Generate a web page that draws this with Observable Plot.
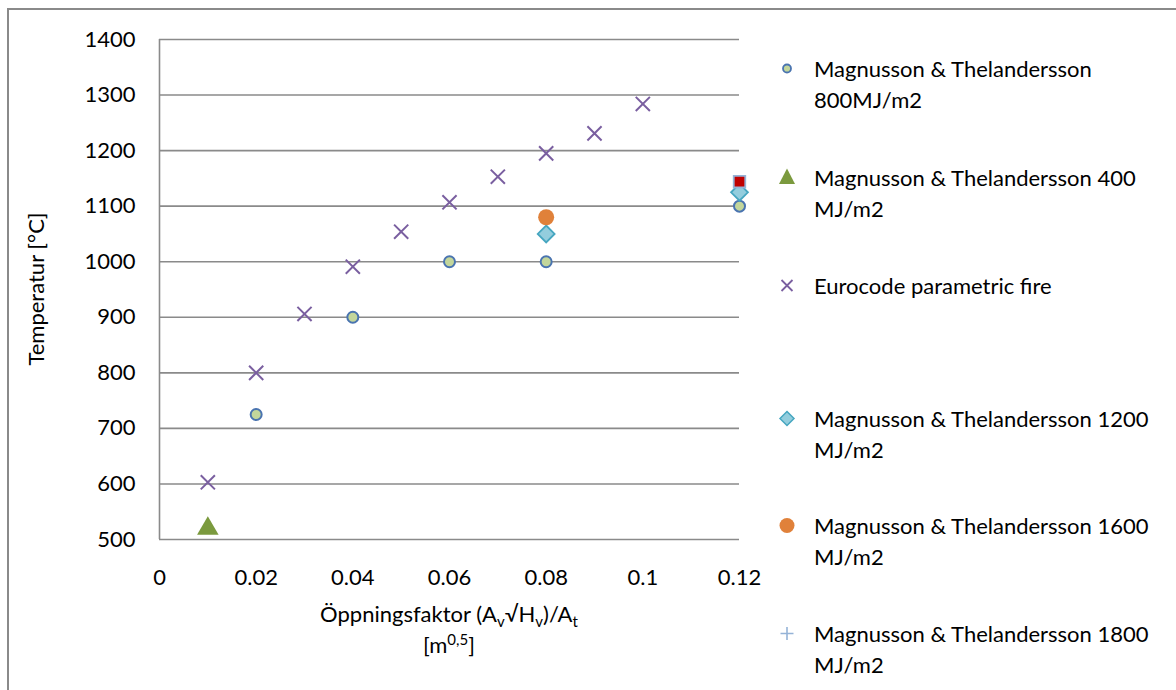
<!DOCTYPE html>
<html>
<head>
<meta charset="utf-8">
<script src="https://cdn.jsdelivr.net/npm/d3@7"></script>
<script src="https://cdn.jsdelivr.net/npm/@observablehq/plot@0.6"></script>
<style>
  html, body { margin: 0; padding: 0; background: #fff; }
  #wrap { position: relative; width: 1176px; height: 690px; overflow: hidden; font-family: Lato, "Open Sans", sans-serif; color: #000; }
  #border { position: absolute; left: 7px; top: 8px; width: 1300px; height: 800px; border: 2px solid #8a8a8a; box-sizing: border-box; }
  #chart { position: absolute; left: 0; top: 0; }
  .leg { position: absolute; left: 775px; font-size: 22px; line-height: 31px; }
  .leg svg { position: absolute; left: 0; top: 0; }
  .leg .txt { position: absolute; left: 39px; top: 0; white-space: nowrap; }
  #xtitle { position: absolute; left: 149px; width: 600px; text-align: center; top: 598px; font-size: 22px; line-height: 31px; }
  #xtitle sub, #xtitle sup { font-size: 15px; line-height: 0; }
  #ytitle { position: absolute; left: 35px; top: 289px; font-size: 22px; transform: translate(-50%, -50%) rotate(-90deg); white-space: nowrap; }
</style>
</head>
<body>
<div id="wrap">
  <div id="border"></div>
  <div id="chart"></div>
  <div id="ytitle">Temperatur [°C]</div>
  <div id="xtitle">Öppningsfaktor (A<sub>v</sub>√H<sub>v</sub>)/A<sub>t</sub><br>[m<sup>0,5</sup>]</div>
  <div id="legend"></div>
</div>
<script>
// ---- data ----
const xTicks = [0, 0.02, 0.04, 0.06, 0.08, 0.1, 0.12];
const xTickLabels = ["0", "0.02", "0.04", "0.06", "0.08", "0.1", "0.12"];
const yTicks = [500, 600, 700, 800, 900, 1000, 1100, 1200, 1300, 1400];

const mt800X = [0.02, 0.04, 0.06, 0.08, 0.12];
const mt800Y = [725, 900, 1000, 1000, 1100];

const mt400X = [0.01];
const mt400Y = [525];

const euroX = [0.01, 0.02, 0.03, 0.04, 0.05, 0.06, 0.07, 0.08, 0.09, 0.10];
const euroY = [603, 800, 906, 991, 1054, 1107, 1153, 1195, 1231, 1284];

const mt1200X = [0.08, 0.12];
const mt1200Y = [1050, 1125];

const mt1600X = [0.08];
const mt1600Y = [1080];

const mt1800X = [0.12];
const mt1800Y = [1144];

const legendLines = [
  ["Magnusson & Thelandersson", "800MJ/m2"],
  ["Magnusson & Thelandersson 400", "MJ/m2"],
  ["Eurocode parametric fire"],
  ["Magnusson & Thelandersson 1200", "MJ/m2"],
  ["Magnusson & Thelandersson 1600", "MJ/m2"],
  ["Magnusson & Thelandersson 1800", "MJ/m2"]
];

const zip = (xs, ys) => xs.map((x, i) => ({x, y: ys[i]}));

const plot = Plot.plot({
  width: 760,
  height: 600,
  marginLeft: 159,
  marginRight: 21,
  marginTop: 39,
  marginBottom: 61,
  style: { fontFamily: "Lato, 'Open Sans', sans-serif", fontSize: "22px", color: "#000", background: "transparent", overflow: "visible" },
  x: { domain: [0, 0.12], ticks: xTicks },
  y: { domain: [500, 1400], ticks: yTicks },
  marks: [
    Plot.ruleY(yTicks, { y: d => d, stroke: "#8a8a8a", strokeWidth: 1.6 }),
    Plot.ruleX([0], { stroke: "#8a8a8a", strokeWidth: 1.6 }),
    Plot.axisX({ ticks: xTicks, tickFormat: (d, i) => xTickLabels[i], tickSize: 0, tickPadding: 30, label: null, fill: "#000", fontSize: 22 }),
    Plot.axisY({ ticks: yTicks, tickFormat: d => String(d), tickSize: 0, tickPadding: 24, label: null, fill: "#000", fontSize: 22 }),
    Plot.dot(zip(euroX, euroY), { x: "x", y: "y", symbol: "times", r: 6.5, stroke: "#7a5fa0", strokeWidth: 2 }),
    Plot.dot(zip(mt800X, mt800Y), { x: "x", y: "y", r: 5.5, fill: "#c3d69b", stroke: "#4a74b0", strokeWidth: 2 }),
    Plot.dot(zip(mt400X, mt400Y), { x: "x", y: "y", symbol: "triangle", r: 8, dy: 3, fill: "#7b9a3e", stroke: "none" }),
    Plot.dot(zip(mt1200X, mt1200Y), { x: "x", y: "y", symbol: "diamond2", r: 7.6, fill: "#93cddd", stroke: "#46a6c0", strokeWidth: 1.8 }),
    Plot.dot(zip(mt1600X, mt1600Y), { x: "x", y: "y", r: 8, fill: "#e0813a", stroke: "none" }),
    Plot.dot(zip(mt1800X, mt1800Y), { x: "x", y: "y", symbol: "square", r: 6.5, fill: "#c00000", stroke: "#95b3d7", strokeWidth: 1.8 })
  ]
});
document.getElementById("chart").appendChild(plot);

// ---- legend (HTML) ----
const legendCenters = [68, 177, 285, 418, 525, 633];
const legendSymbols = [
  '<circle cx="12" cy="15.5" r="4" fill="#c3d69b" stroke="#4a74b0" stroke-width="1.8"/>',
  '<path d="M12 6.5 L20 22 L4 22 Z" fill="#7b9a3e"/>',
  '<path d="M6.5 10 L17.5 21 M17.5 10 L6.5 21" stroke="#7a5fa0" stroke-width="1.8"/>',
  '<path d="M12 8.5 L19 15.5 L12 22.5 L5 15.5 Z" fill="#93cddd" stroke="#46a6c0" stroke-width="1.5"/>',
  '<circle cx="12" cy="15.5" r="7.5" fill="#e0813a"/>',
  '<path d="M12 9 L12 22 M5.5 15.5 L18.5 15.5" stroke="#95b3d7" stroke-width="1.6"/>'
];
const leg = document.getElementById("legend");
legendLines.forEach((lines, i) => {
  const d = document.createElement("div");
  d.className = "leg";
  d.style.top = (legendCenters[i] - 15.5) + "px";
  d.innerHTML = `<svg width="26" height="31">${legendSymbols[i]}</svg><div class="txt">${lines.map(s => s.replace(/&/g, "&amp;")).join("<br>")}</div>`;
  leg.appendChild(d);
});
</script>
</body>
</html>
